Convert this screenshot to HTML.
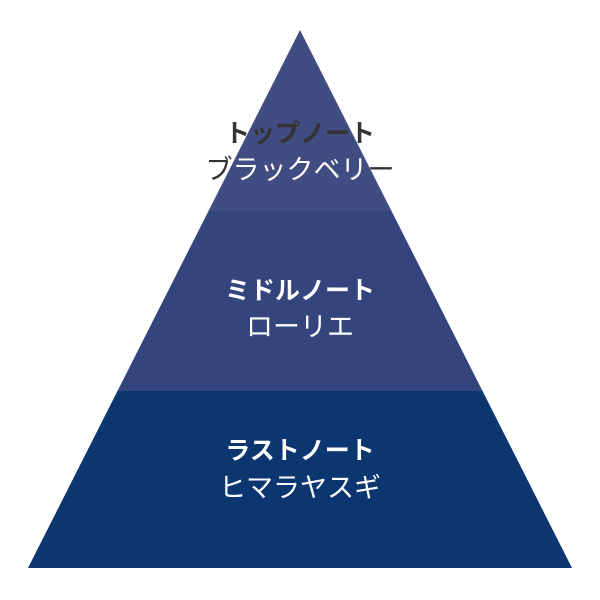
<!DOCTYPE html>
<html><head><meta charset="utf-8"><style>html,body{margin:0;padding:0;background:#fff}</style></head>
<body>
<svg width="600" height="600" xmlns="http://www.w3.org/2000/svg" style="display:block">
<defs><clipPath id="tri"><polygon points="300,30 28,568 572,568"/></clipPath></defs>
<g clip-path="url(#tri)">
<rect x="0" y="0" width="600" height="211" fill="#414c83"/>
<rect x="0" y="211" width="600" height="180" fill="#33457c"/>
<rect x="0" y="391" width="600" height="180" fill="#0c366f"/>
</g>
<g font-family="'Liberation Sans','Noto Sans CJK JP',sans-serif" text-anchor="middle">
<text x="300" y="142" font-weight="bold" font-size="25" fill="#333">トップノート</text>
<text x="300" y="179" font-size="27" fill="#333">ブラックベリー</text>
<text x="300" y="179" font-size="27" fill="#fff" clip-path="url(#tri)">ブラックベリー</text>
<g fill="#fff">
<text x="300" y="299" font-weight="bold" font-size="25">ミドルノート</text>
<text x="300" y="336" font-size="27">ローリエ</text>
<text x="300" y="459" font-weight="bold" font-size="25">ラストノート</text>
<text x="300" y="497" font-size="27">ヒマラヤスギ</text>
</g>
</g>
</svg>
</body></html>
